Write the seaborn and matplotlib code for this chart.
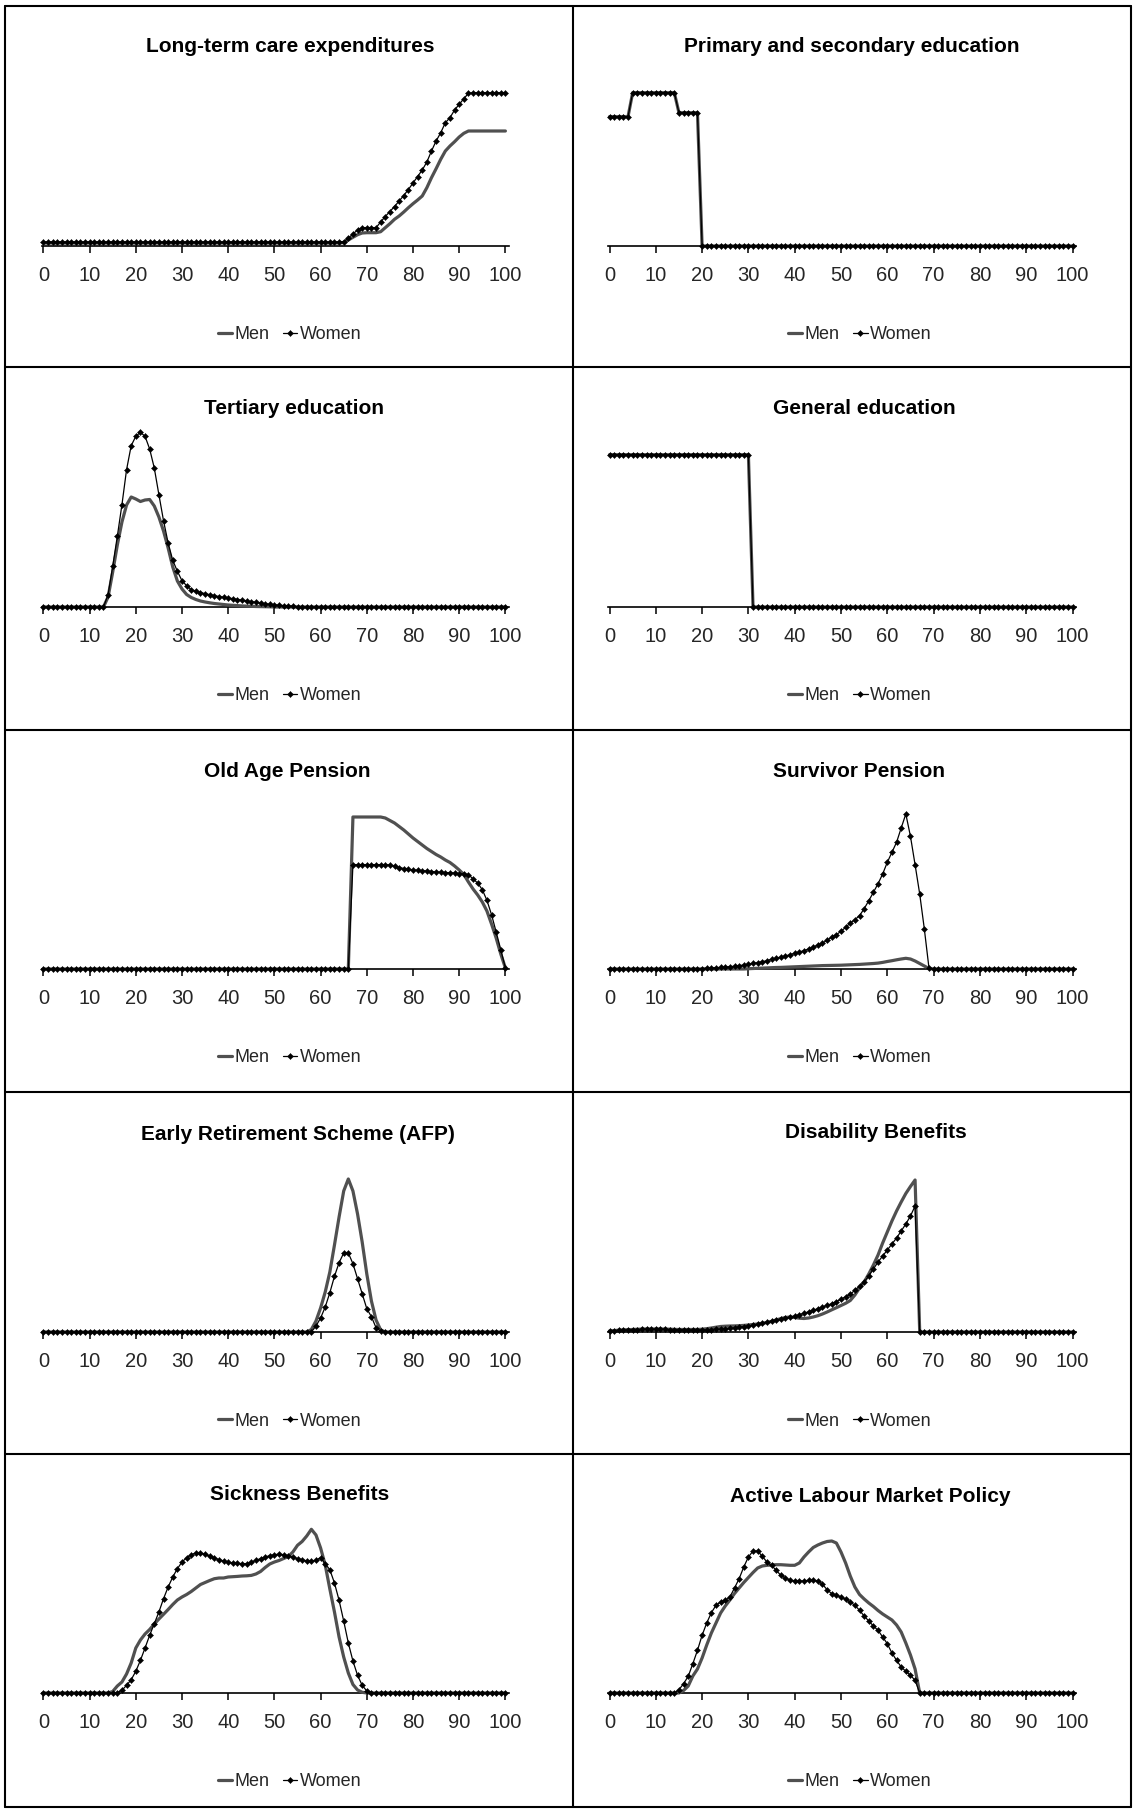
import matplotlib
matplotlib.use("Agg")
import matplotlib.pyplot as plt
from matplotlib.lines import Line2D
import seaborn as sns

AGES = list(range(101))
TITLES = ["Long-term care expenditures", "Primary and secondary education",
          "Tertiary education", "General education",
          "Old Age Pension", "Survivor Pension",
          "Early Retirement Scheme (AFP)", "Disability Benefits",
          "Sickness Benefits", "Active Labour Market Policy"]
TICKS = list(range(0, 101, 10))
LABELS = ["Men", "Women"]

# relative levels by age 0..100 (no y scale in the original)
LTC_MEN = [3, 3, 3, 3, 3, 3, 3, 3, 3, 3,
           3, 3, 3, 3, 3, 3, 3, 3, 3, 3,
           3, 3, 3, 3, 3, 3, 3, 3, 3, 3,
           3, 3, 3, 3, 3, 3, 3, 3, 3, 3,
           3, 3, 3, 3, 3, 3, 3, 3, 3, 3,
           3, 3, 3, 3, 3, 3, 3, 3, 3, 3,
           3, 3, 3, 3, 3, 3.5, 6, 8.7, 11.3, 13,
           13.3, 13.3, 13.3, 14.3, 18.3, 22.3, 26.7, 30, 34, 38.3,
           42.3, 46, 50, 58.3, 68.3, 77.3, 86.7, 95, 100, 104.3,
           109, 112.7, 115, 115, 115, 115, 115, 115, 115, 115,
           115]
LTC_WOMEN = [4, 4, 4, 4, 4, 4, 4, 4, 4, 4,
             4, 4, 4, 4, 4, 4, 4, 4, 4, 4,
             4, 4, 4, 4, 4, 4, 4, 4, 4, 4,
             4, 4, 4, 4, 4, 4, 4, 4, 4, 4,
             4, 4, 4, 4, 4, 4, 4, 4, 4, 4,
             4, 4, 4, 4, 4, 4, 4, 4, 4, 4,
             4, 4, 4, 4, 4, 4.5, 8, 12, 16, 18.3,
             18.3, 18.3, 18.3, 24, 29.5, 34.5, 39.5, 45, 50.5, 56.5,
             63, 69.5, 76, 84, 95, 105, 113.3, 123.3, 128.3, 136,
             141.7, 147.3, 152.7, 153.3, 153.3, 153.3, 153.3, 153.3, 153.3, 153.3,
             153.3]

PSE_MEN = [129.3, 129.3, 129.3, 129.3, 129.3, 153.3, 153.3, 153.3, 153.3, 153.3,
           153.3, 153.3, 153.3, 153.3, 153.3, 133.3, 133.3, 133.3, 133.3, 133.3,
           0, 0, 0, 0, 0, 0, 0, 0, 0, 0,
           0, 0, 0, 0, 0, 0, 0, 0, 0, 0,
           0, 0, 0, 0, 0, 0, 0, 0, 0, 0,
           0, 0, 0, 0, 0, 0, 0, 0, 0, 0,
           0, 0, 0, 0, 0, 0, 0, 0, 0, 0,
           0, 0, 0, 0, 0, 0, 0, 0, 0, 0,
           0, 0, 0, 0, 0, 0, 0, 0, 0, 0,
           0, 0, 0, 0, 0, 0, 0, 0, 0, 0,
           0]
PSE_WOMEN = [129.3, 129.3, 129.3, 129.3, 129.3, 153.3, 153.3, 153.3, 153.3, 153.3,
             153.3, 153.3, 153.3, 153.3, 153.3, 133.3, 133.3, 133.3, 133.3, 133.3,
             0, 0, 0, 0, 0, 0, 0, 0, 0, 0,
             0, 0, 0, 0, 0, 0, 0, 0, 0, 0,
             0, 0, 0, 0, 0, 0, 0, 0, 0, 0,
             0, 0, 0, 0, 0, 0, 0, 0, 0, 0,
             0, 0, 0, 0, 0, 0, 0, 0, 0, 0,
             0, 0, 0, 0, 0, 0, 0, 0, 0, 0,
             0, 0, 0, 0, 0, 0, 0, 0, 0, 0,
             0, 0, 0, 0, 0, 0, 0, 0, 0, 0,
             0]

TER_MEN = [0, 0, 0, 0, 0, 0, 0, 0, 0, 0,
           0, 0, 0, 0, 10, 35, 62, 85, 102, 110,
           108, 105.5, 107, 107.5, 101, 90, 76, 59, 40, 26,
           18, 12.5, 9.5, 7.5, 6, 5, 4.2, 3.5, 3, 2.5,
           2, 1.7, 1.4, 1.1, 0.9, 0.7, 0.5, 0.4, 0.3, 0.2,
           0, 0, 0, 0, 0, 0, 0, 0, 0, 0,
           0, 0, 0, 0, 0, 0, 0, 0, 0, 0,
           0, 0, 0, 0, 0, 0, 0, 0, 0, 0,
           0, 0, 0, 0, 0, 0, 0, 0, 0, 0,
           0, 0, 0, 0, 0, 0, 0, 0, 0, 0,
           0]
TER_WOMEN = [0, 0, 0, 0, 0, 0, 0, 0, 0, 0,
             0, 0, 0, 0, 12.3, 40.7, 70.7, 102.3, 137.3, 161.3,
             170.7, 174.7, 170.7, 158, 139, 112.3, 86.3, 64, 46.7, 35.7,
             26.3, 21.3, 17.3, 15.7, 14.5, 13.3, 12.3, 11.3, 10.5, 9.7,
             9, 8.3, 7.5, 6.8, 6, 5.3, 4.7, 4, 3.3, 2.7,
             2.2, 1.8, 1.4, 1, 0.7, 0.4, 0, 0, 0, 0,
             0, 0, 0, 0, 0, 0, 0, 0, 0, 0,
             0, 0, 0, 0, 0, 0, 0, 0, 0, 0,
             0, 0, 0, 0, 0, 0, 0, 0, 0, 0,
             0, 0, 0, 0, 0, 0, 0, 0, 0, 0,
             0]

GEN_MEN = [152.3, 152.3, 152.3, 152.3, 152.3, 152.3, 152.3, 152.3, 152.3, 152.3,
           152.3, 152.3, 152.3, 152.3, 152.3, 152.3, 152.3, 152.3, 152.3, 152.3,
           152.3, 152.3, 152.3, 152.3, 152.3, 152.3, 152.3, 152.3, 152.3, 152.3,
           152.3, 0, 0, 0, 0, 0, 0, 0, 0, 0,
           0, 0, 0, 0, 0, 0, 0, 0, 0, 0,
           0, 0, 0, 0, 0, 0, 0, 0, 0, 0,
           0, 0, 0, 0, 0, 0, 0, 0, 0, 0,
           0, 0, 0, 0, 0, 0, 0, 0, 0, 0,
           0, 0, 0, 0, 0, 0, 0, 0, 0, 0,
           0, 0, 0, 0, 0, 0, 0, 0, 0, 0,
           0]
GEN_WOMEN = [152.3, 152.3, 152.3, 152.3, 152.3, 152.3, 152.3, 152.3, 152.3, 152.3,
             152.3, 152.3, 152.3, 152.3, 152.3, 152.3, 152.3, 152.3, 152.3, 152.3,
             152.3, 152.3, 152.3, 152.3, 152.3, 152.3, 152.3, 152.3, 152.3, 152.3,
             152.3, 0, 0, 0, 0, 0, 0, 0, 0, 0,
             0, 0, 0, 0, 0, 0, 0, 0, 0, 0,
             0, 0, 0, 0, 0, 0, 0, 0, 0, 0,
             0, 0, 0, 0, 0, 0, 0, 0, 0, 0,
             0, 0, 0, 0, 0, 0, 0, 0, 0, 0,
             0, 0, 0, 0, 0, 0, 0, 0, 0, 0,
             0, 0, 0, 0, 0, 0, 0, 0, 0, 0,
             0]

OAP_MEN = [0, 0, 0, 0, 0, 0, 0, 0, 0, 0,
           0, 0, 0, 0, 0, 0, 0, 0, 0, 0,
           0, 0, 0, 0, 0, 0, 0, 0, 0, 0,
           0, 0, 0, 0, 0, 0, 0, 0, 0, 0,
           0, 0, 0, 0, 0, 0, 0, 0, 0, 0,
           0, 0, 0, 0, 0, 0, 0, 0, 0, 0,
           0, 0, 0, 0, 0, 0, 0, 152, 152, 152,
           152, 152, 152, 152, 151, 148.5, 146, 142.5, 139, 135,
           131, 127.5, 124, 120.5, 117.5, 114.5, 112, 109, 106.5, 103,
           99, 94.5, 87, 80, 74, 67, 58, 45, 31, 15,
           1]
OAP_WOMEN = [0, 0, 0, 0, 0, 0, 0, 0, 0, 0,
             0, 0, 0, 0, 0, 0, 0, 0, 0, 0,
             0, 0, 0, 0, 0, 0, 0, 0, 0, 0,
             0, 0, 0, 0, 0, 0, 0, 0, 0, 0,
             0, 0, 0, 0, 0, 0, 0, 0, 0, 0,
             0, 0, 0, 0, 0, 0, 0, 0, 0, 0,
             0, 0, 0, 0, 0, 0, 0, 104.3, 104.3, 104.3,
             104.3, 104.3, 104.3, 104.3, 104.3, 104, 102.7, 101.5, 100.5, 99.7,
             99, 98.7, 98.3, 98, 97.5, 97, 96.8, 96.5, 96.2, 96,
             95.5, 95, 94.5, 90, 86, 79.3, 68.7, 54.3, 37, 19.3,
             1]

SUR_MEN = [0, 0, 0, 0, 0, 0, 0, 0, 0, 0,
           0, 0, 0, 0, 0, 0, 0, 0, 0, 0,
           0, 0, 0, 0, 0, 0, 0, 0, 0, 0,
           0.3, 0.5, 0.7, 0.9, 1.1, 1.3, 1.5, 1.6, 1.8, 2,
           2.2, 2.4, 2.6, 2.8, 3, 3.2, 3.4, 3.5, 3.6, 3.7,
           3.8, 4, 4.2, 4.4, 4.6, 4.9, 5.2, 5.5, 5.9, 6.6,
           7.5, 8.3, 9.2, 10, 10.7, 10, 8, 5.5, 3, 0.5,
           0, 0, 0, 0, 0, 0, 0, 0, 0, 0,
           0, 0, 0, 0, 0, 0, 0, 0, 0, 0,
           0, 0, 0, 0, 0, 0, 0, 0, 0, 0,
           0]
SUR_WOMEN = [0, 0, 0, 0, 0, 0, 0, 0, 0, 0,
             0, 0, 0, 0, 0, 0, 0, 0, 0, 0.3,
             0.5, 0.7, 1, 1.3, 1.6, 2, 2.3, 2.7, 3.3, 4,
             4.7, 5.7, 6.3, 7.3, 8.3, 9.7, 10.7, 12, 13, 14.3,
             15.7, 17, 18.3, 20, 21.7, 24, 26, 28.7, 32, 34.3,
             37.7, 41.7, 46, 49.3, 53.3, 60.3, 68.3, 76.7, 85.3, 95,
             106.7, 116.7, 126.7, 141, 155, 132.7, 104.3, 75, 40, 1,
             0, 0, 0, 0, 0, 0, 0, 0, 0, 0,
             0, 0, 0, 0, 0, 0, 0, 0, 0, 0,
             0, 0, 0, 0, 0, 0, 0, 0, 0, 0,
             0]

AFP_MEN = [0, 0, 0, 0, 0, 0, 0, 0, 0, 0,
           0, 0, 0, 0, 0, 0, 0, 0, 0, 0,
           0, 0, 0, 0, 0, 0, 0, 0, 0, 0,
           0, 0, 0, 0, 0, 0, 0, 0, 0, 0,
           0, 0, 0, 0, 0, 0, 0, 0, 0, 0,
           0, 0, 0, 0, 0, 0, 0, 0, 2.5, 11,
           24, 40, 60, 87, 115, 141, 153, 141, 118, 90,
           58, 31, 12, 2, 0, 0, 0, 0, 0, 0,
           0, 0, 0, 0, 0, 0, 0, 0, 0, 0,
           0, 0, 0, 0, 0, 0, 0, 0, 0, 0,
           0]
AFP_WOMEN = [0, 0, 0, 0, 0, 0, 0, 0, 0, 0,
             0, 0, 0, 0, 0, 0, 0, 0, 0, 0,
             0, 0, 0, 0, 0, 0, 0, 0, 0, 0,
             0, 0, 0, 0, 0, 0, 0, 0, 0, 0,
             0, 0, 0, 0, 0, 0, 0, 0, 0, 0,
             0, 0, 0, 0, 0, 0, 0, 0, 0, 6,
             14, 25, 39.3, 55.7, 69.3, 79, 79, 68.3, 53.3, 38.3,
             23.3, 15.3, 4.3, 0.7, 0, 0, 0, 0, 0, 0,
             0, 0, 0, 0, 0, 0, 0, 0, 0, 0,
             0, 0, 0, 0, 0, 0, 0, 0, 0, 0,
             0]

DIS_MEN = [1, 1.4, 1.8, 2.1, 2.3, 2.5, 2.7, 2.9, 3, 3,
           3, 3, 2.9, 2.8, 2.6, 2.5, 2.5, 2.5, 2.5, 2.5,
           2.8, 3.3, 4, 4.8, 5.5, 5.8, 6, 6.1, 6.3, 6.6,
           7, 7.5, 8, 8.7, 9.5, 10.6, 12, 13.4, 14.5, 15,
           14.5, 13.8, 13.5, 14, 15, 16.3, 18, 20, 22.2, 24.3,
           26.5, 28.7, 31.5, 37, 44, 50, 58, 67, 77, 89,
           100, 111, 121, 130, 138.5, 145.5, 152, 0, 0, 0,
           0, 0, 0, 0, 0, 0, 0, 0, 0, 0,
           0, 0, 0, 0, 0, 0, 0, 0, 0, 0,
           0, 0, 0, 0, 0, 0, 0, 0, 0, 0,
           0]
DIS_WOMEN = [1, 1.3, 1.6, 1.9, 2.1, 2.3, 2.5, 2.6, 2.7, 2.7,
             2.7, 2.7, 2.6, 2.5, 2.4, 2.3, 2.2, 2.1, 2, 2,
             2, 2.2, 2.5, 2.8, 3.1, 3.4, 3.8, 4.3, 4.8, 5.4,
             6, 6.8, 7.6, 8.6, 9.8, 11, 12, 12.9, 13.7, 14.8,
             16, 17.3, 18.7, 20.2, 21.7, 23.3, 25, 26.6, 28.3, 30.5,
             32.7, 35.2, 37.7, 41.8, 46, 50, 56, 63, 70, 76,
             82, 88, 94, 101, 108, 116, 126, 0, 0, 0,
             0, 0, 0, 0, 0, 0, 0, 0, 0, 0,
             0, 0, 0, 0, 0, 0, 0, 0, 0, 0,
             0, 0, 0, 0, 0, 0, 0, 0, 0, 0,
             0]

SIC_MEN = [0, 0, 0, 0, 0, 0, 0, 0, 0, 0,
           0, 0, 0, 0, 0, 1.5, 7, 11, 19, 30,
           45, 53, 59, 63.5, 69, 74, 78.7, 83.5, 88.5, 93,
           96, 98.5, 101.5, 105, 108.5, 110.5, 112.5, 114.3, 115, 115,
           116, 116.3, 116.6, 117, 117.2, 117.6, 119, 121.5, 125.5, 129,
           131, 132.5, 134.5, 136.5, 141, 147.7, 151.5, 157, 163.7, 158,
           145, 128, 104, 81, 56, 36, 20, 8.5, 3, 0.7,
           0, 0, 0, 0, 0, 0, 0, 0, 0, 0,
           0, 0, 0, 0, 0, 0, 0, 0, 0, 0,
           0, 0, 0, 0, 0, 0, 0, 0, 0, 0,
           0]
SIC_WOMEN = [0, 0, 0, 0, 0, 0, 0, 0, 0, 0,
             0, 0, 0, 0, 0, 0, 0.5, 2.7, 7.7, 13.3,
             21.7, 32.7, 45, 57.7, 69.3, 81, 94.3, 106, 116, 124.3,
             131, 135.3, 138.3, 140, 140, 138.7, 136.7, 135, 133.3, 132,
             130.7, 130, 129.7, 129.3, 129.3, 130.7, 132.7, 134.3, 136, 137.3,
             138.3, 138.7, 138.3, 137.3, 136, 134.3, 133.3, 132, 131.7, 132.7,
             135.3, 129.3, 123.3, 110, 92.7, 72, 50, 32, 17.7, 7.7,
             2, 0.3, 0, 0, 0, 0, 0, 0, 0, 0,
             0, 0, 0, 0, 0, 0, 0, 0, 0, 0,
             0, 0, 0, 0, 0, 0, 0, 0, 0, 0,
             0]

ALM_MEN = [0, 0, 0, 0, 0, 0, 0, 0, 0, 0,
           0, 0, 0, 0, 0, 0, 2.5, 7, 17, 24,
           35, 48, 60, 70, 80, 87, 93, 99.5, 105, 110.5,
           115.5, 120.5, 125, 127, 127.7, 128, 128.3, 128.3, 128, 127.7,
           127.7, 130, 136, 141, 145.5, 148, 150, 151.5, 152, 150,
           141, 130, 117, 106, 98.5, 94, 90, 86.5, 82.5, 79,
           76, 73, 68, 61, 50, 38, 24, 0, 0, 0,
           0, 0, 0, 0, 0, 0, 0, 0, 0, 0,
           0, 0, 0, 0, 0, 0, 0, 0, 0, 0,
           0, 0, 0, 0, 0, 0, 0, 0, 0, 0,
           0]
ALM_WOMEN = [0, 0, 0, 0, 0, 0, 0, 0, 0, 0,
             0, 0, 0, 0, 0, 3.3, 9.3, 16.7, 29.3, 42.7,
             57.7, 70, 80.3, 87.7, 91, 92.7, 96, 105, 114.3, 126,
             136, 142, 142, 136.7, 131, 127.7, 122.7, 117.7, 115, 112.7,
             112, 112, 112, 112.7, 112.7, 112, 108.7, 103.3, 99.3, 97.7,
             96, 93.7, 91, 87.7, 82.7, 77, 72, 67, 62.7, 56,
             49.3, 40, 32.7, 26, 21.7, 17.7, 12.7, 0, 0, 0,
             0, 0, 0, 0, 0, 0, 0, 0, 0, 0,
             0, 0, 0, 0, 0, 0, 0, 0, 0, 0,
             0, 0, 0, 0, 0, 0, 0, 0, 0, 0,
             0]

MEN = [LTC_MEN, PSE_MEN, TER_MEN, GEN_MEN, OAP_MEN, SUR_MEN, AFP_MEN, DIS_MEN, SIC_MEN, ALM_MEN]
WOMEN = [LTC_WOMEN, PSE_WOMEN, TER_WOMEN, GEN_WOMEN, OAP_WOMEN, SUR_WOMEN, AFP_WOMEN, DIS_WOMEN, SIC_WOMEN, ALM_WOMEN]

# ---------------- layout (pixels) ----------------
W, H = 1133, 1809
ROW_BASE = [246, 607, 969, 1332, 1693]
COL_X0 = [43.4, 609.5]
COL_PPA = [4.62, 4.63]
TITLE_X = [[290.2, 852.0], [294.5, 864.5], [286.9, 859.1], [297.8, 876.0], [299.5, 870.5]]
TITLE_BL = [[51.7, 51.7], [414.5, 414.5], [777.0, 777.0], [1139.5, 1138.5], [1500.5, 1502.0]]
LEG_X = [289.5, 859.6]
AX_H = 190.0

sns.set_theme(style="white")
plt.rcParams["font.family"] = ["Liberation Sans", "DejaVu Sans"]

fig = plt.figure(figsize=(W / 100, H / 100), dpi=100)
fig.patch.set_facecolor("white")

MEN_COLOR = "#505050"

for i in range(10):
    r, c = divmod(i, 2)
    x0, ppa, base = COL_X0[c], COL_PPA[c], ROW_BASE[r]
    left = (x0 - 0.35 * ppa) / W
    width = 101.15 * ppa / W
    bottom = 1 - base / H
    ax = fig.add_axes([left, bottom, width, AX_H / H])
    sns.lineplot(x=AGES, y=MEN[i], ax=ax, color=MEN_COLOR, lw=2.3,
                 label=LABELS[0], clip_on=False, zorder=3)
    sns.lineplot(x=AGES, y=WOMEN[i], ax=ax, color="black", lw=0.9,
                 marker="D", markersize=3.1, markeredgewidth=0.3,
                 markeredgecolor="black", label=LABELS[1], clip_on=False, zorder=4)
    ax.set_xlim(-0.35, 100.8)
    ax.set_ylim(0, AX_H)
    ax.set_xticks(TICKS)
    ax.set_xticklabels([str(t) for t in TICKS])
    ax.set_yticks([])
    ax.set_xlabel("")
    ax.set_ylabel("")
    for s in ("left", "right", "top"):
        ax.spines[s].set_visible(False)
    ax.spines["bottom"].set_color("black")
    ax.spines["bottom"].set_linewidth(1.2)
    ax.spines["bottom"].set_zorder(2)
    ax.tick_params(axis="x", direction="out", length=5, width=1.1, color="black",
                   labelsize=14.5, pad=9.5, bottom=True)
    ax.patch.set_alpha(0)
    handles, labels = ax.get_legend_handles_labels()
    ax.legend(handles, labels, loc="center",
              bbox_to_anchor=(LEG_X[c] / W, 1 - (base + 89) / H),
              bbox_transform=fig.transFigure, ncol=2, frameon=False,
              fontsize=13, handlelength=0.8, handletextpad=0.12,
              columnspacing=0.75, borderaxespad=0, borderpad=0)
    fig.text(TITLE_X[r][c] / W, 1 - TITLE_BL[r][c] / H, TITLES[i],
             ha="center", va="baseline", fontsize=15, fontweight="bold", color="black")

# table borders
def hline(y, x0=5, x1=1131):
    fig.add_artist(Line2D([x0 / W, x1 / W], [1 - y / H, 1 - y / H],
                          transform=fig.transFigure, color="black", lw=1.5))

def vline(x, y0=6, y1=1807):
    fig.add_artist(Line2D([x / W, x / W], [1 - y0 / H, 1 - y1 / H],
                          transform=fig.transFigure, color="black", lw=1.5))

for y in (6, 367, 730, 1092, 1454, 1807):
    hline(y)
for x in (5, 573, 1131):
    vline(x)

fig.savefig("out.png", dpi=100, facecolor="white")
